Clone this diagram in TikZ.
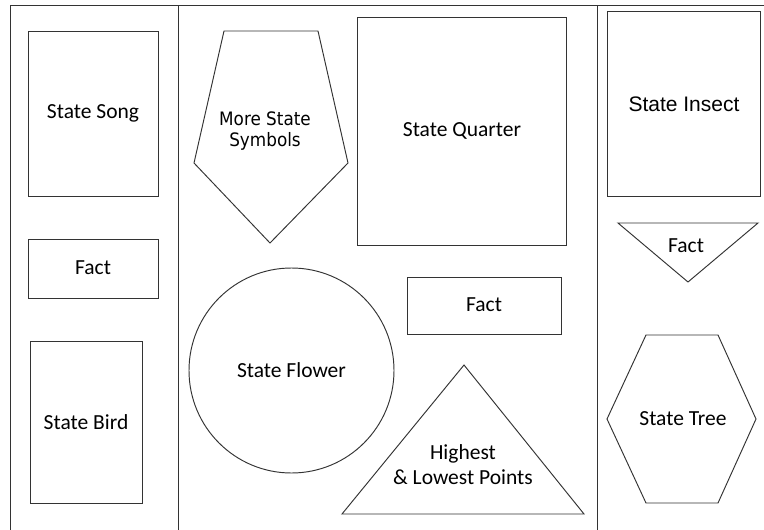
\documentclass[tikz,border=0pt]{standalone}
\usepackage{fontspec}
\setmainfont{Carlito}
\newfontfamily\arialf{Liberation Sans}
\newfontfamily\tahf[FakeStretch=0.91]{DejaVu Sans}
\begin{document}
\begin{tikzpicture}[x=1pt,y=-1pt,
  ln/.style={draw=black!80,line width=0.95pt,line join=miter},
  lbl/.style={font=\fontsize{21.5}{25}\selectfont,align=center,inner sep=0pt},
  lbla/.style={font=\arialf\fontsize{21}{25}\selectfont,align=center,inner sep=0pt},
  lblt/.style={font=\tahf\fontsize{18.5}{21}\selectfont,align=center,inner sep=0pt}]
\useasboundingbox (0,0) rectangle (764,530);
% frame
\draw[ln] (10,530) -- (10,5) -- (764,5);
\draw[ln] (178,5) -- (178,530);
\draw[ln] (597,5) -- (597,530);
% left column
\draw[ln] (28,31) rectangle (158,196);
\draw[ln] (28,239) rectangle (158,298);
\draw[ln] (30,341) rectangle (142,503);
\node[lbl] (song) at (93,113) {State Song};
\node[lbl] (fact1) at (93,268) {Fact};
\node[lbl] (bird) at (86,422) {State Bird};
% middle column
\draw[ln] (224,31) -- (318,31) -- (348,163) -- (270,243) -- (194,163) -- cycle;
\node[lblt] (more) at (265,131) {More State\\Symbols};
\draw[ln] (357,17) rectangle (566,245);
\node[lbl] (quarter) at (462,131) {State Quarter};
\draw[ln] (407,277) rectangle (561,334);
\node[lbl] (fact2) at (484,305) {Fact};
\draw[ln] (291.5,370.5) circle[radius=102.5pt];
\node[lbl] (flower) at (291.5,370) {State Flower};
\draw[ln] (464,365) -- (584,514) -- (342,514) -- cycle;
\node[lbl] (points) at (463,465) {Highest\\\& Lowest Points};
% right column
\draw[ln] (607,11) rectangle (760,196);
\node[lbla] (insect) at (684,104) {State Insect};
\draw[ln] (618,223) -- (758,223) -- (688,282) -- cycle;
\node[lbl] (fact3) at (686,246) {Fact};
\draw[ln] (646,335) -- (718,335) -- (756,419) -- (718,503) -- (646,503) -- (607,419) -- cycle;
\node[lbl] (tree) at (683,419) {State Tree};
\end{tikzpicture}
\end{document}
